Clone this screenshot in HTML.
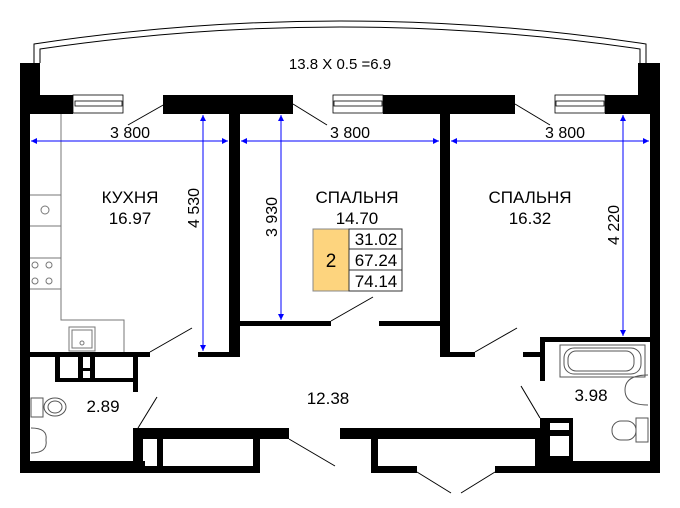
<!DOCTYPE html>
<html><head><meta charset="utf-8"><style>
html,body{margin:0;padding:0;background:#fff;}
svg{display:block;}
text{font-family:"Liberation Sans",sans-serif;fill:#000;}
</style></head><body>
<svg width="680" height="508" viewBox="0 0 680 508" xmlns="http://www.w3.org/2000/svg">
<defs>
<marker id="a" viewBox="0 0 10 10" refX="10" refY="5" markerWidth="9" markerHeight="6" orient="auto-start-reverse" markerUnits="userSpaceOnUse"><path d="M0,0 L10,5 L0,10 z" fill="#0000ff"/></marker>
</defs>
<path d="M34,63 V44 Q340,-2 646,44 V63" fill="none" stroke="#000" stroke-width="1"/>
<path d="M40,63 V49 Q340,5 640,49 V63" fill="none" stroke="#000" stroke-width="1"/>
<text x="340" y="69" font-size="15" text-anchor="middle">13.8 X 0.5 =6.9</text>
<g fill="#000">
<rect x="20" y="63" width="20" height="50"/>
<rect x="20" y="95" width="53" height="19"/>
<rect x="20" y="63" width="10" height="410"/>
<rect x="163" y="95" width="130" height="19"/>
<rect x="229" y="95" width="11" height="262"/>
<rect x="198" y="352" width="31" height="5"/>
<rect x="383" y="95" width="132" height="19"/>
<rect x="440" y="95" width="10" height="262"/>
<rect x="450" y="352" width="25" height="5"/>
<rect x="605" y="95" width="55" height="19"/>
<rect x="638" y="63" width="22" height="51"/>
<rect x="650" y="63" width="10" height="410"/>
<rect x="240" y="321" width="91" height="5"/>
<rect x="379" y="321" width="61" height="5"/>
<rect x="540" y="337" width="110" height="5"/>
<rect x="540" y="337" width="5" height="44"/>
<rect x="523" y="352" width="17" height="5"/>
<rect x="540" y="418" width="33" height="55"/>
<rect x="540" y="461" width="120" height="12"/>
<rect x="340" y="428" width="200" height="11"/>
<rect x="371" y="439" width="7" height="34"/>
<rect x="371" y="466" width="46" height="7"/>
<rect x="495" y="466" width="45" height="7"/>
<rect x="535" y="439" width="10" height="34"/>
<rect x="133" y="428" width="156" height="11"/>
<rect x="133" y="428" width="10" height="45"/>
<rect x="157" y="439" width="6" height="34"/>
<rect x="253" y="439" width="7" height="34"/>
<rect x="20" y="461" width="240" height="12"/>
<rect x="30" y="352" width="120" height="5"/>
<rect x="55" y="357" width="5" height="25"/>
<rect x="55" y="378" width="83" height="4"/>
<rect x="133" y="352" width="5" height="40"/>
<rect x="78" y="357" width="5" height="25"/>
<rect x="90" y="357" width="5" height="25"/>
<rect x="83" y="368" width="7" height="3"/>
</g>
<g fill="#fff" stroke="none">
<rect x="550" y="423" width="19" height="7"/>
<rect x="550" y="436" width="19" height="20"/>
<rect x="145" y="439" width="12" height="27"/>
<rect x="163" y="439" width="90" height="27"/>
</g>
<g fill="#fff" stroke="#000" stroke-width="0.8">
<rect x="73" y="95" width="50" height="18"/><rect x="75" y="101" width="47" height="5"/>
<rect x="333" y="95" width="50" height="18"/><rect x="334" y="101" width="48" height="5"/>
<rect x="555" y="95" width="50" height="18"/><rect x="556" y="101" width="48" height="5"/>
</g>
<g stroke="#000" stroke-width="1" fill="none">
<line x1="165" y1="104" x2="128" y2="125"/>
<line x1="293" y1="104" x2="327" y2="125"/>
<line x1="515" y1="104" x2="550" y2="125"/>
<line x1="331" y1="321" x2="373" y2="297"/>
<line x1="475" y1="352" x2="517" y2="328"/>
<line x1="150" y1="352" x2="192" y2="328"/>
<line x1="138" y1="428" x2="157" y2="397"/>
<line x1="289" y1="439" x2="335" y2="466"/>
<line x1="540" y1="418" x2="521" y2="386"/>
<line x1="417" y1="472" x2="451" y2="493"/>
<line x1="461" y1="493" x2="495" y2="472"/>
</g>
<g stroke="#777" stroke-width="1" fill="none">
<path d="M61,114 V320 H124 V352"/>
<line x1="30" y1="195" x2="61" y2="195"/>
<line x1="30" y1="226" x2="61" y2="226"/>
<line x1="30" y1="258" x2="61" y2="258"/>
<line x1="30" y1="289" x2="61" y2="289"/>
<rect x="69" y="327" width="26" height="24"/>
<rect x="72" y="330" width="20" height="18"/>
<circle cx="82" cy="343" r="2"/>
<circle cx="45" cy="210" r="4"/>
<circle cx="35" cy="265" r="3"/><circle cx="49" cy="265" r="3"/>
<circle cx="35" cy="281" r="3"/><circle cx="49" cy="281" r="3"/>
</g>
<g stroke="#555" stroke-width="1" fill="none">
<rect x="31" y="398" width="12" height="19"/>
<ellipse cx="55" cy="407" rx="11" ry="9"/><ellipse cx="55" cy="407" rx="7" ry="6"/>
<path d="M31,428 Q48,428 46,440 Q48,453 31,453"/>
<rect x="560" y="345" width="85" height="32"/>
<rect x="564" y="348" width="77" height="26" rx="10"/>
<rect x="568" y="351" width="66" height="20" rx="8"/>
<path d="M648,375 Q625,375 625,390 Q625,405 648,405"/>
<rect x="612" y="421" width="24" height="19" rx="9"/>
<rect x="636" y="418" width="12" height="24"/>
</g>
<g stroke="#0000ff" stroke-width="1" fill="none">
<line x1="31" y1="141" x2="228" y2="141" marker-start="url(#a)" marker-end="url(#a)"/>
<line x1="241" y1="141" x2="439" y2="141" marker-start="url(#a)" marker-end="url(#a)"/>
<line x1="451" y1="141" x2="649" y2="141" marker-start="url(#a)" marker-end="url(#a)"/>
<line x1="203" y1="115" x2="203" y2="351" marker-start="url(#a)" marker-end="url(#a)"/>
<line x1="281" y1="115" x2="281" y2="320" marker-start="url(#a)" marker-end="url(#a)"/>
<line x1="623" y1="115" x2="623" y2="336" marker-start="url(#a)" marker-end="url(#a)"/>
</g>
<g font-size="16">
<text x="130" y="138" text-anchor="middle">3 800</text>
<text x="350" y="138" text-anchor="middle">3 800</text>
<text x="565" y="138" text-anchor="middle">3 800</text>
<text transform="translate(199,208) rotate(-90)" text-anchor="middle">4 530</text>
<text transform="translate(277,217) rotate(-90)" text-anchor="middle">3 930</text>
<text transform="translate(619,225) rotate(-90)" text-anchor="middle">4 220</text>
</g>
<g font-size="17" text-anchor="middle">
<text x="130" y="203">КУХНЯ</text><text x="130" y="224">16.97</text>
<text x="357" y="203">СПАЛЬНЯ</text><text x="357" y="224">14.70</text>
<text x="530" y="203">СПАЛЬНЯ</text><text x="530" y="224">16.32</text>
<text x="328" y="404">12.38</text>
<text x="103" y="412">2.89</text>
<text x="591" y="401">3.98</text>
</g>
<rect x="313" y="229" width="36" height="62" fill="#fdd47e" stroke="#888" stroke-width="1"/>
<text x="331" y="267" font-size="19" text-anchor="middle">2</text>
<g fill="#fff" stroke="#333" stroke-width="1">
<rect x="349" y="229" width="53" height="20"/>
<rect x="349" y="249" width="53" height="21"/>
<rect x="349" y="270" width="53" height="21"/>
</g>
<g font-size="17" text-anchor="middle">
<text x="376" y="245">31.02</text>
<text x="376" y="266">67.24</text>
<text x="376" y="287">74.14</text>
</g>
</svg>
</body></html>
